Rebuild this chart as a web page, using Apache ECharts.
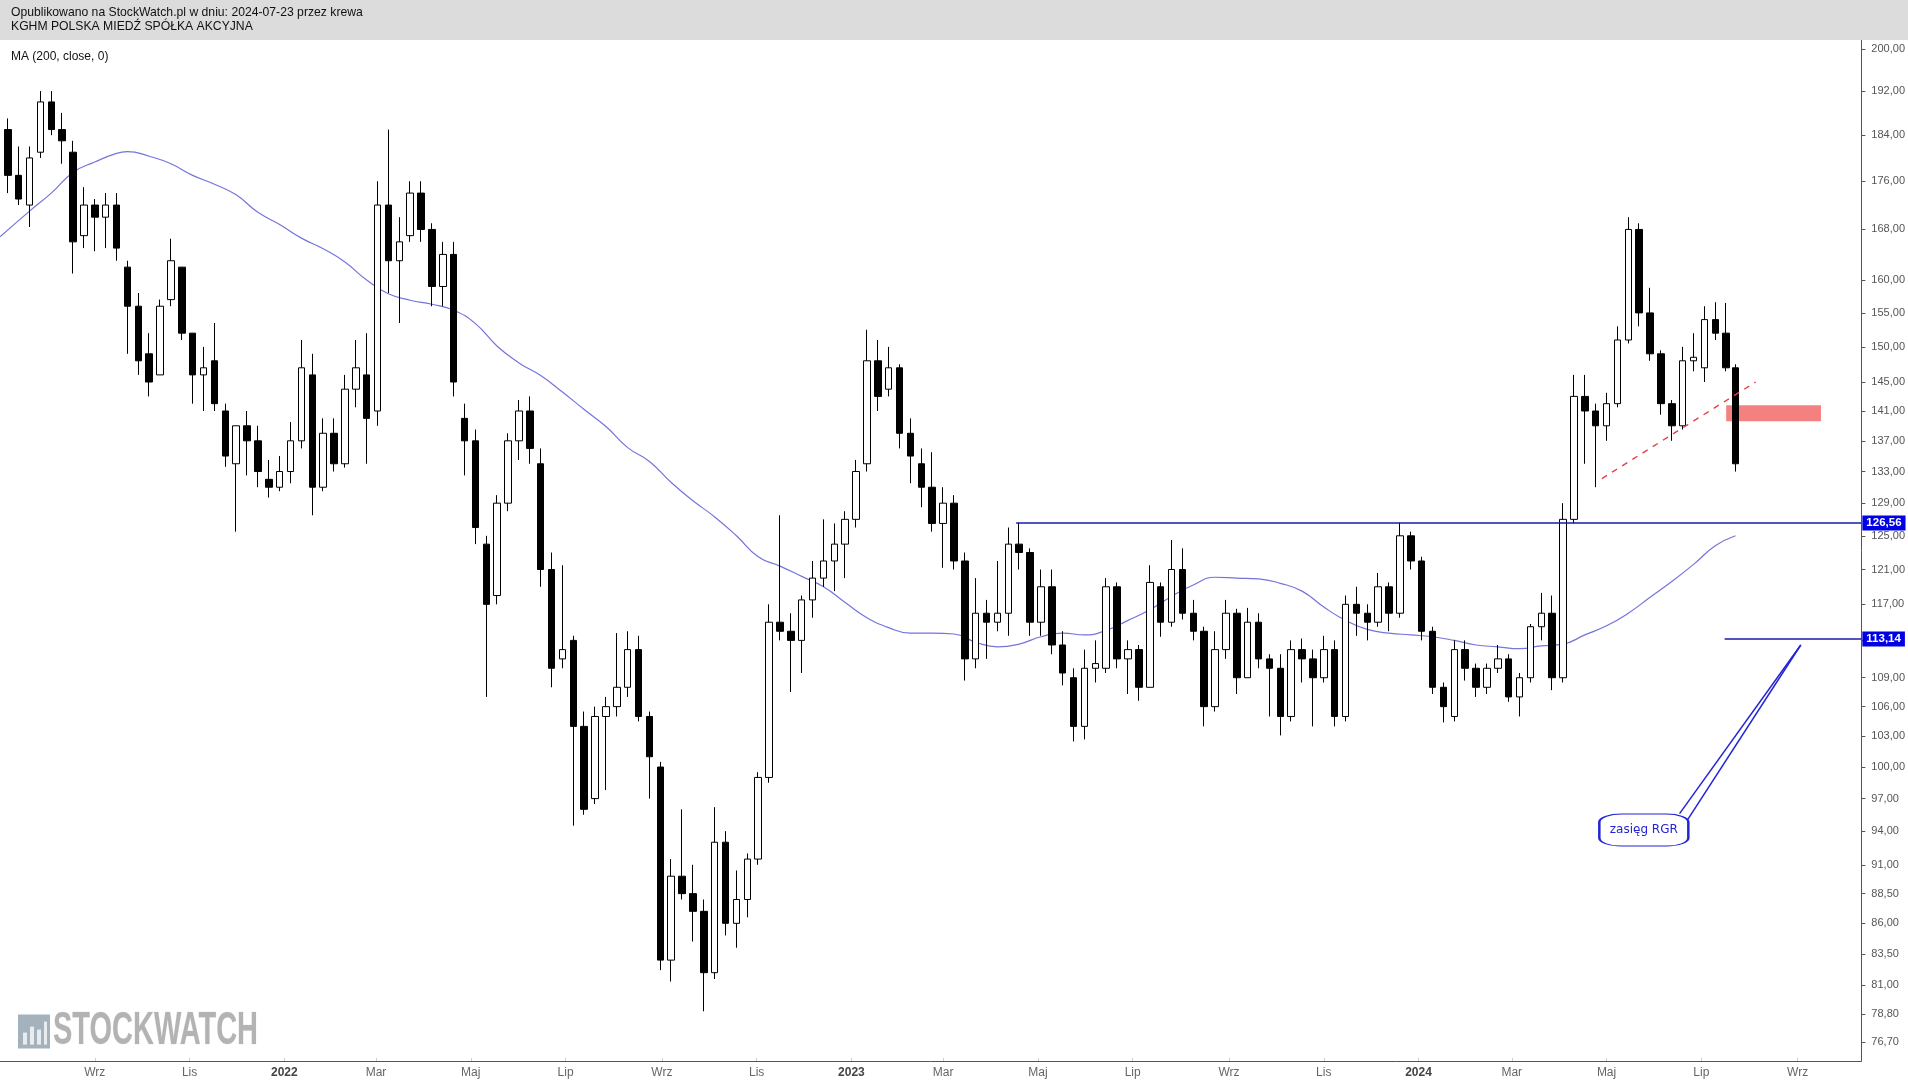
<!DOCTYPE html>
<html><head><meta charset="utf-8">
<script src="https://cdn.jsdelivr.net/npm/echarts@6/dist/echarts.min.js"></script>
<style>html,body{margin:0;padding:0;background:#fff;overflow:hidden}#c{width:1908px;height:1081px}</style>
</head><body><div id="c"></div>
<script>
// ---- data (weekly candles) ----
const weekDates = [
'2021-07-07','2021-07-14','2021-07-21','2021-07-28','2021-08-04','2021-08-11','2021-08-18','2021-08-25','2021-09-01','2021-09-08',
'2021-09-15','2021-09-22','2021-09-29','2021-10-06','2021-10-13','2021-10-20','2021-10-27','2021-11-03','2021-11-10','2021-11-17',
'2021-11-24','2021-12-01','2021-12-08','2021-12-15','2021-12-22','2021-12-29','2022-01-05','2022-01-12','2022-01-19','2022-01-26',
'2022-02-02','2022-02-09','2022-02-16','2022-02-23','2022-03-02','2022-03-09','2022-03-16','2022-03-23','2022-03-30','2022-04-06',
'2022-04-13','2022-04-20','2022-04-27','2022-05-04','2022-05-11','2022-05-18','2022-05-25','2022-06-01','2022-06-08','2022-06-15',
'2022-06-22','2022-06-29','2022-07-06','2022-07-13','2022-07-20','2022-07-27','2022-08-03','2022-08-10','2022-08-17','2022-08-24',
'2022-08-31','2022-09-07','2022-09-14','2022-09-21','2022-09-28','2022-10-05','2022-10-12','2022-10-19','2022-10-26','2022-11-02',
'2022-11-09','2022-11-16','2022-11-23','2022-11-30','2022-12-07','2022-12-14','2022-12-21','2022-12-28','2023-01-04','2023-01-11',
'2023-01-18','2023-01-25','2023-02-01','2023-02-08','2023-02-15','2023-02-22','2023-03-01','2023-03-08','2023-03-15','2023-03-22',
'2023-03-29','2023-04-05','2023-04-12','2023-04-19','2023-04-26','2023-05-03','2023-05-10','2023-05-17','2023-05-24','2023-05-31',
'2023-06-07','2023-06-14','2023-06-21','2023-06-28','2023-07-05','2023-07-12','2023-07-19','2023-07-26','2023-08-02','2023-08-09',
'2023-08-16','2023-08-23','2023-08-30','2023-09-06','2023-09-13','2023-09-20','2023-09-27','2023-10-04','2023-10-11','2023-10-18',
'2023-10-25','2023-11-01','2023-11-08','2023-11-15','2023-11-22','2023-11-29','2023-12-06','2023-12-13','2023-12-20','2023-12-27',
'2024-01-03','2024-01-10','2024-01-17','2024-01-24','2024-01-31','2024-02-07','2024-02-14','2024-02-21','2024-02-28','2024-03-06',
'2024-03-13','2024-03-20','2024-03-27','2024-04-03','2024-04-10','2024-04-17','2024-04-24','2024-05-01','2024-05-08','2024-05-15',
'2024-05-22','2024-05-29','2024-06-05','2024-06-12','2024-06-19','2024-06-26','2024-07-03','2024-07-10','2024-07-17','2024-07-23'];

const openP = [
185,177,172,181,190,185,181,167,172,170, 172,162,156,149,146,157,162,152,146,148,
141,134,139,137,132,131,133,137,146,131, 138,134,144,146,141,172,163,167,174,168,
159,164,140,137,124,118,129,137,141,134, 121,111,113,104,97,105,106,108,112,105,
100,83,90,88.5,87,82,93,86,88,91.5, 99,115,114,113,117.5,120,122,124,127,134,
148,144,147,138,134,131,126.5,129,122,111, 116,115,116,124,123,115,119,112.5,109,104,
110,110,119,111,112,108,119,115,121,116, 114,106,112,116,109,115,111,110,105,112,
111,109,112,105,117,116,115,119,116,125, 122,114,108,105,112,110,108,110,111,107,
109,114.5,116,109,127,143,141,139,142,151, 168,155,149,142,139,148,147,154,152,147];

const highP = [
187,182,182,192,192,188,183,175,173,174, 174,163,158,152,157,166.5,162,152,150,153.5,
142,139,141,139,134.5,135,139.5,151,149,140, 140,146,151,152,176,185,170,176,176,169,
166,166,142,138.5,125,130,138,142.5,143,136, 123,121.5,113.5,105.5,106,107,113.8,114,113.5,105.5,
100.5,91.5,96,91,88,96.2,94,90.5,92,99.5, 117,127.5,116,118,122,127,126.5,128,134.5,152.5,
151,150,147.5,140,136,135.5,131,130,123,120, 117.5,122,126,126.56,123.5,121,121,114,110,112,
113,120,119.5,113,112.5,121.5,119.5,124.5,123.5,117.5, 114.5,114,117.5,116.5,116.6,116,111.5,111.5,113,113.2,
112,113.5,113,118,119,117,120.6,119.5,126.6,125.5, 122.5,114.5,108.5,113,113,110.5,110.5,112.5,111.5,109.5,
114.8,118.3,118,129,146,146,142,143.5,153,170, 169,158.8,149.5,142.5,150,152,156,156.6,156.5,147.5];

const lowP = [
174,172,168.4,180,184,179,161,165,164.5,165, 163,149,146,143,146,156,151,142,141,141,
133.6,125.5,132.5,131,129.7,130.5,131.5,136,127.5,130.5, 133,133.5,141.5,134,139,158,153.5,166,166,156,
156,143,132.5,124,107,117,128,134.5,134,119, 108,110,94.5,95.5,96.5,97.8,105,107,104.5,97,
82.2,81.3,88,84.5,79,81.5,85,84,86.5,91, 98.5,113,107.5,109.5,115.5,119,118.5,120,126,133,
141,143,136,131.5,128.5,125.5,121.2,121,108.7,110, 111,114,113.5,121,113.5,113.5,111.5,108.2,102.5,102.7,
108.5,109.5,110,107.3,106.6,108,113.4,114.5,115.3,113, 104,105.5,111,107.3,109,110,105,103.1,104.5,108.5,
104,108.5,104,104.5,113.5,113,114.5,114,115.5,121, 113,107.3,104.4,104.5,108.7,107,107.3,109.5,106.5,105,
108.5,113,107.7,108.5,126.5,134,131,137,141.5,150.5, 153,148,140.5,137,138.5,146.5,145,151,146.5,133];

const closeP = [
177,173,180,190,185,183,166,172,170,172, 165,156,148,145,156,163,152,146,147,142,
135,139,137,133,131,133,137,147,131,138, 134,144,147,140,172,163,166,174,168,159,
164,145,137,126,117,129,137,141,136,121, 110,112,104,96,105,106,108,112,105,101,
83,90,88.5,87,82,93,86,88,91.5,99, 115,114,113,117.5,120,122,124,127,133,148,
143,147,138,135,131,126.5,129,122,111,116, 115,116,124,123,115,119,112.5,109.5,104,110,
110.5,119,111,112,108,119.5,115,121,116,114, 106,112,116,109,115,111,110,105,112,111,
109,112,105,117,116,115,119,116,125,122, 114,108,106,112,110,108,110,111,107,109,
114.5,116,109,127,143,141,139,142,151,168, 155,149,142,139,148,148.5,154,152,147,134];

// MA(200) line
const maDates = [
'2021-07-02','2021-07-21','2021-08-04','2021-08-18','2021-09-01','2021-09-15','2021-09-22','2021-10-06','2021-10-20','2021-11-03',
'2021-11-17','2021-12-01','2021-12-15','2021-12-29','2022-01-12','2022-01-26','2022-02-09','2022-02-23','2022-03-09','2022-03-23',
'2022-04-06','2022-04-20','2022-05-04','2022-05-18','2022-06-01','2022-06-15','2022-06-29','2022-07-13','2022-07-27','2022-08-10',
'2022-08-24','2022-09-07','2022-09-21','2022-10-05','2022-10-19','2022-11-02','2022-11-16','2022-11-30','2022-12-14','2022-12-28',
'2023-01-11','2023-01-25','2023-02-08','2023-02-22','2023-03-08','2023-03-22','2023-04-05','2023-04-19','2023-05-03','2023-05-17',
'2023-05-31','2023-06-14','2023-06-28','2023-07-12','2023-07-26','2023-08-09','2023-08-23','2023-09-06','2023-09-20','2023-10-04',
'2023-10-18','2023-11-01','2023-11-15','2023-11-29','2023-12-13','2023-12-27','2024-01-10','2024-01-24','2024-02-07','2024-02-21',
'2024-03-06','2024-03-20','2024-04-03','2024-04-17','2024-05-01','2024-05-15','2024-05-29','2024-06-12','2024-06-26','2024-07-10','2024-07-23'];
const maValues = [
166.8,171,174,177.5,179.3,180.8,181.1,180.3,179,177,
175.5,173.7,170.8,168.8,166.6,164.9,162.8,160,157.9,156.9,
156.3,155.4,153.4,150.1,147.7,145.9,143.6,141.2,138.9,136.1,
134.3,131.6,129.3,127.3,125,122.5,121.4,120.2,119,117.2,
115.5,114.4,113.8,113.8,113.7,112.8,112.3,112.6,113.4,113.8,
113.6,114.1,115.2,116.4,117.9,119.2,120.1,120,119.9,119.4,
118.5,116.7,115.2,114.2,113.8,113.6,113.4,113,112.5,112.3,
112.1,112.4,112.6,113.6,114.6,116,117.8,119.6,121.6,123.8,125];

const yTicks = [200,192,184,176,168,160,155,150,145,141,137,133,129,125,121,117,113,109,106,103,100,97,94,91,88.5,86,83.5,81,78.8,76.7];
const xTickDates = ['2021-09-01','2021-11-01','2022-01-01','2022-03-01','2022-05-01','2022-07-01','2022-09-01','2022-11-01','2023-01-01','2023-03-01','2023-05-01','2023-07-01','2023-09-01','2023-11-01','2024-01-01','2024-03-01','2024-05-01','2024-07-01','2024-09-01'];
const monthsPL = ['Sty','Lut','Mar','Kwi','Maj','Cze','Lip','Sie','Wrz','Paź','Lis','Gru'];

// annotation levels
const resistance = 126.56;
const target = 113.14;

// ---- chart ----
const t = s => { const p = s.split('-').map(Number); return Date.UTC(p[0], p[1] - 1, p[2]); };
const candles = weekDates.map((d, i) => [t(d), openP[i], closeP[i], lowP[i], highP[i]]);
const ma = maDates.map((d, i) => [t(d), maValues[i]]);
const xMin = t('2021-07-02'), xMax = t('2024-10-12');
const fmtNum = v => Number(v).toFixed(2).replace('.', ',');
const xTickVals = xTickDates.map(t);

const chart = echarts.init(document.getElementById('c'), null, {renderer: 'canvas'});
const blue = '#2424d4';
const narrow = '"Liberation Sans Narrow", "Liberation Sans", Arial';
chart.setOption({
  animation: false,
  backgroundColor: '#ffffff',
  grid: {left: 0, right: 46, top: 40, bottom: 20, containLabel: false},
  xAxis: {
    type: 'value', min: xMin, max: xMax, scale: true,
    axisLine: {show: true, onZero: false, lineStyle: {color: '#555', width: 1}},
    axisTick: {show: true, inside: true, length: 3, customValues: xTickVals, lineStyle: {color: '#cfcfcf'}},
    axisLabel: {
      customValues: xTickVals, color: '#666', fontSize: 12, margin: 6, fontFamily: narrow,
      formatter: v => { const d = new Date(v); return d.getUTCMonth() === 0 ? '{b|' + d.getUTCFullYear() + '}' : monthsPL[d.getUTCMonth()]; },
      rich: {b: {fontWeight: 'bold', color: '#444', fontSize: 12, fontFamily: narrow}}
    },
    splitLine: {show: false}
  },
  yAxis: {
    type: 'log', logBase: 10, position: 'right', min: 75.3, max: 201.7,
    axisLine: {show: true, lineStyle: {color: '#555', width: 1}},
    axisTick: {show: true, length: 4, customValues: yTicks, lineStyle: {color: '#555'}},
    axisLabel: {customValues: yTicks, formatter: fmtNum, color: '#555', fontSize: 11, margin: 10, fontFamily: narrow},
    splitLine: {show: false}
  },
  series: [
    {
      type: 'line', name: 'MA', data: ma, showSymbol: false, symbol: 'none', smooth: true,
      lineStyle: {color: '#7474dc', width: 1.2}, z: 1, silent: true,
      markArea: {silent: true, data: [[
        {coord: [t('2024-07-17'), 139.6], itemStyle: {color: '#f58080'}},
        {coord: [t('2024-09-16'), 141.8]}
      ]]},
      markLine: {
        silent: true, symbol: ['none', 'none'],
        data: [
          [{coord: [t('2023-04-17'), resistance], lineStyle: {color: '#1a1aa8', width: 1.5, type: 'solid'},
            label: {show: true, position: 'end', distance: 1, formatter: fmtNum(resistance), backgroundColor: '#0000e6', color: '#fff', fontWeight: 'bold', fontSize: 11.5, fontFamily: '"Liberation Sans", Arial', padding: [2, 4, 1, 4]}},
           {coord: [xMax, resistance]}],
          [{coord: [t('2024-07-16'), target], lineStyle: {color: '#1a1aa8', width: 1.5, type: 'solid'},
            label: {show: true, position: 'end', distance: 1, formatter: fmtNum(target), backgroundColor: '#0000e6', color: '#fff', fontWeight: 'bold', fontSize: 11.5, fontFamily: '"Liberation Sans", Arial', padding: [2, 4, 1, 4]}},
           {coord: [xMax, target]}],
          [{coord: [t('2024-04-28'), 132.1], lineStyle: {color: '#e0404a', width: 1.4, type: [6, 6]}, label: {show: false}},
           {coord: [t('2024-08-05'), 145.0]}],
          [{coord: [t('2024-06-17'), 95.6], lineStyle: {color: blue, width: 1.5, type: 'solid'}, label: {show: false}},
           {coord: [t('2024-09-03'), 112.5]}],
          [{coord: [t('2024-06-22'), 95.0], lineStyle: {color: blue, width: 1.5, type: 'solid'}, label: {show: false}},
           {coord: [t('2024-09-03'), 112.5]}]
        ]
      },
      markPoint: {
        silent: true,
        data: [{coord: [t('2024-05-25'), 94.1], symbol: 'roundRect', symbolSize: [89, 32],
          itemStyle: {color: '#ffffff', borderColor: blue, borderWidth: 1.5},
          label: {show: true, position: 'inside', formatter: 'zasięg RGR', color: blue, fontSize: 12, fontFamily: '"DejaVu Sans", Verdana, sans-serif'}}]
      }
    },
    {
      type: 'candlestick', name: 'KGHM', data: candles, encode: {x: 0, y: [1, 2, 3, 4]},
      barWidth: 7, silent: true, z: 3,
      itemStyle: {color: '#ffffff', color0: '#000000', borderColor: '#000000', borderColor0: '#000000', borderWidth: 1}
    }
  ],
  graphic: [
    {type: 'rect', left: 0, top: 0, shape: {width: 1908, height: 40}, style: {fill: '#dcdcdc'}, silent: true, z: 10},
    {type: 'text', left: 11, top: 7, style: {text: 'Opublikowano na StockWatch.pl w dniu: 2024-07-23 przez krewa', fill: '#111', font: '12.2px "Liberation Sans", Arial'}, z: 11},
    {type: 'text', left: 11, top: 21, style: {text: 'KGHM POLSKA MIEDŹ SPÓŁKA AKCYJNA', fill: '#111', font: '12.2px "Liberation Sans", Arial'}, z: 11},
    {type: 'text', left: 11, top: 51, style: {text: 'MA (200, close, 0)', fill: '#111', font: '12px "Liberation Sans", Arial'}, z: 11},
    {type: 'group', left: 18, top: 1008, z: 0, silent: true, children: [
      {type: 'rect', shape: {x: 0, y: 0, width: 32, height: 34}, style: {fill: '#a4b2bd'}},
      {type: 'rect', shape: {x: 5, y: 18, width: 4, height: 12}, style: {fill: '#e6ecf0'}},
      {type: 'rect', shape: {x: 12, y: 12, width: 4, height: 18}, style: {fill: '#e6ecf0'}},
      {type: 'rect', shape: {x: 19, y: 15, width: 4, height: 15}, style: {fill: '#e6ecf0'}},
      {type: 'rect', shape: {x: 26, y: 7, width: 3, height: 23}, style: {fill: '#e6ecf0'}},
      {type: 'text', x: 35, y: -6, scaleX: 0.63, style: {text: 'STOCKWATCH', font: 'bold 46px "Liberation Sans Narrow", "Liberation Sans", Arial', fill: '#b3b3b3', stroke: '#f2f2f2', lineWidth: 1.2}}
    ]}
  ]
});
</script>
</body></html>
